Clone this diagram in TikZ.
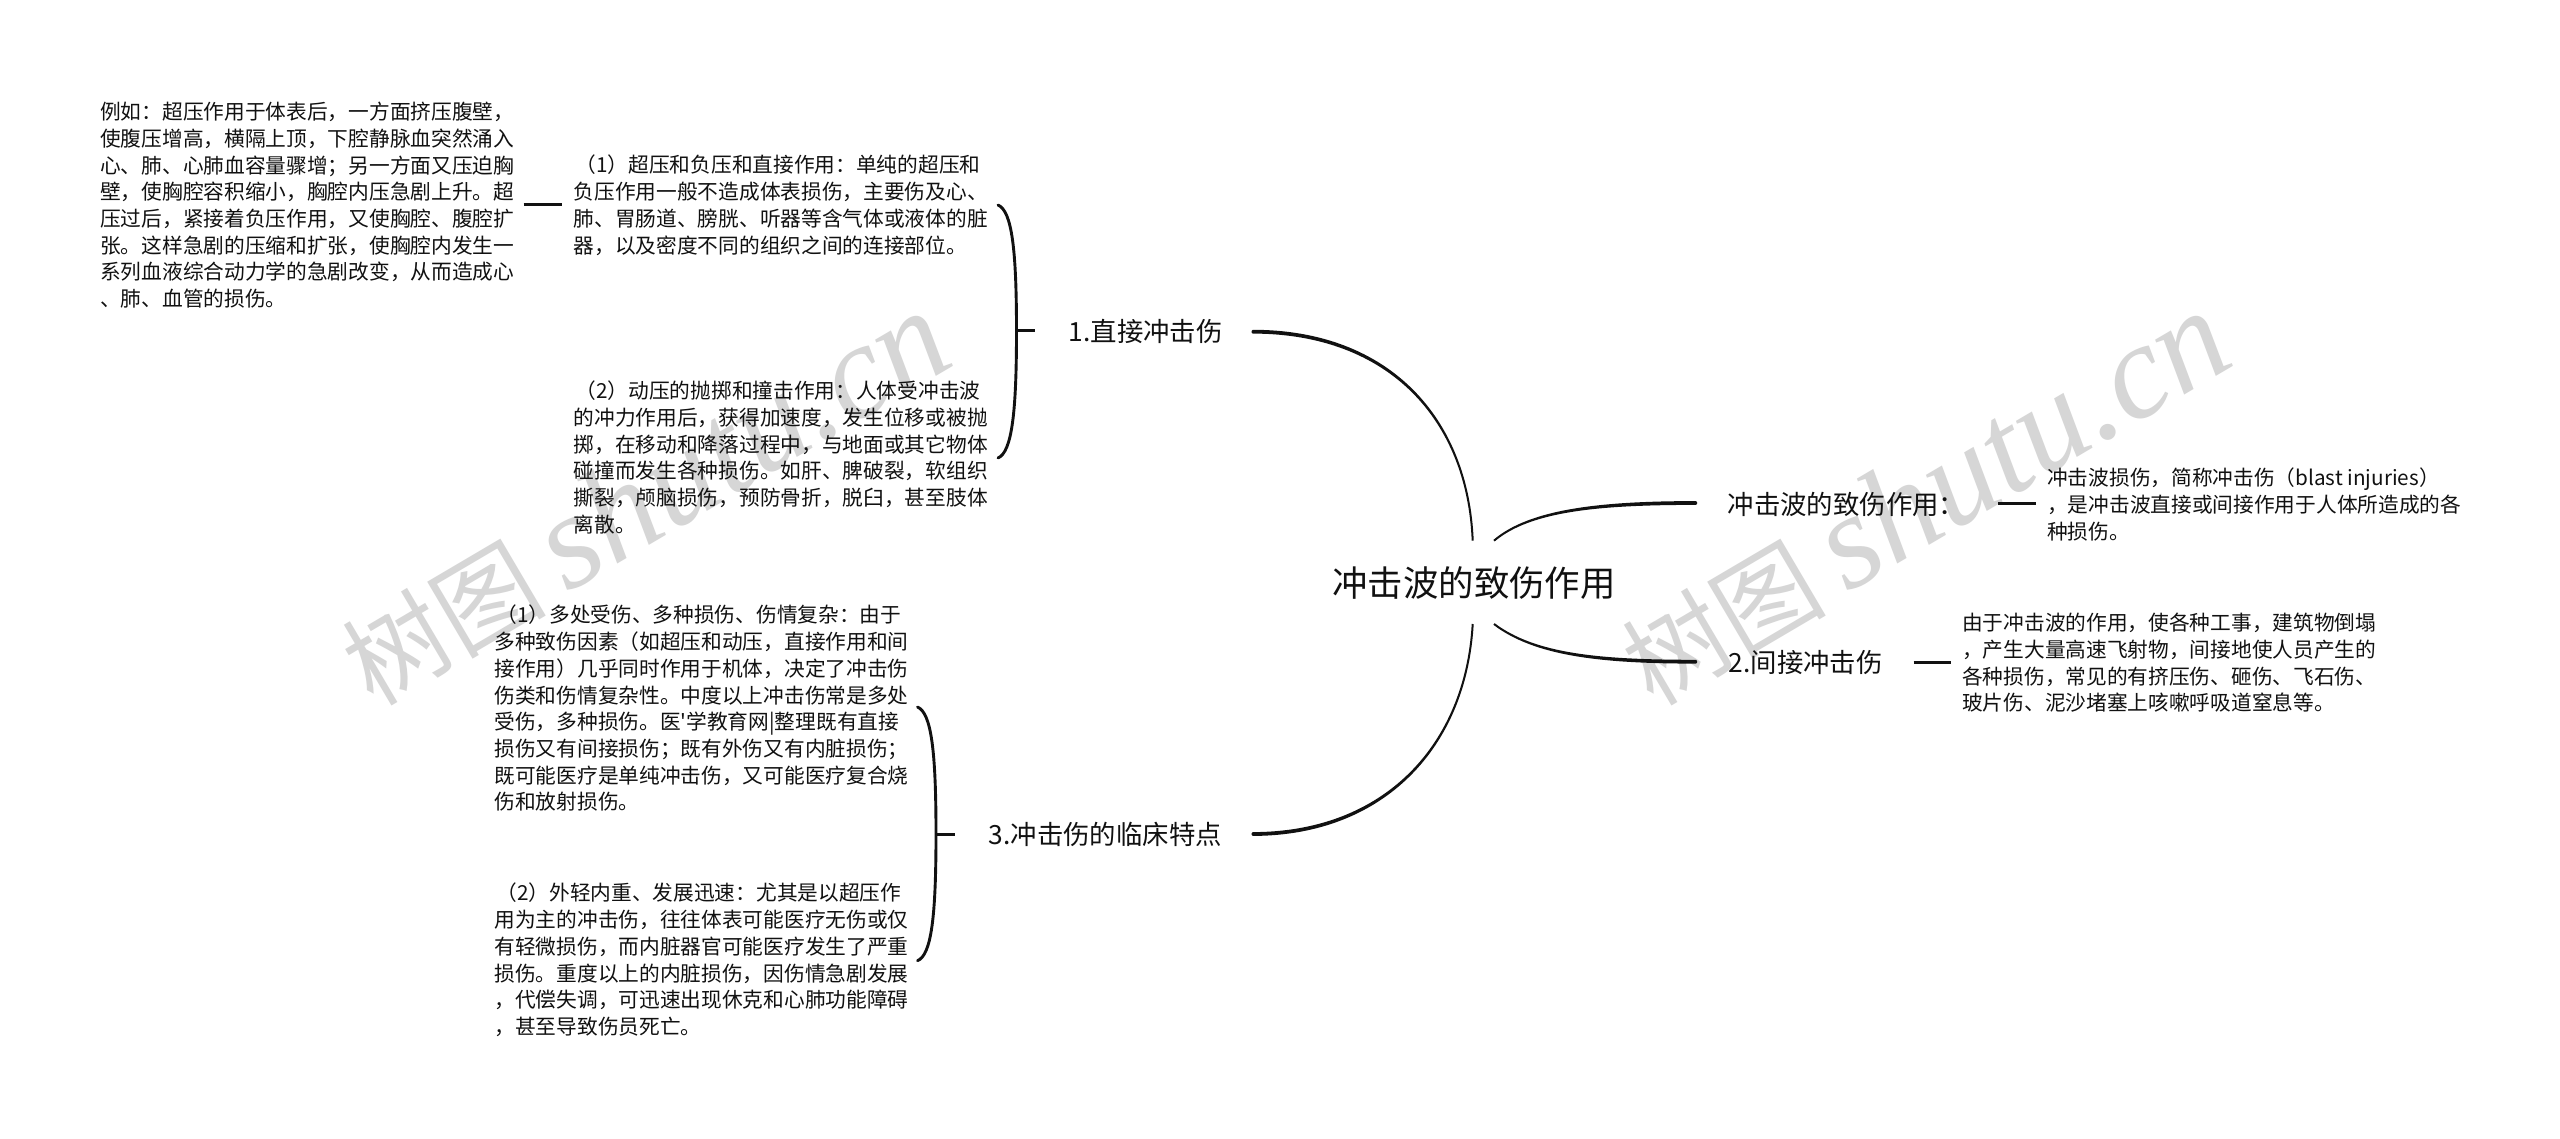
\documentclass[tikz,border=0pt]{standalone}
\usepackage{fontspec}
\setmainfont{Noto Sans CJK SC}
\newfontfamily\cjk{Noto Sans CJK SC}
\newfontfamily\wmserif{Liberation Serif}
\definecolor{ink}{HTML}{111111}
\definecolor{wm}{HTML}{D6D6D6}
\definecolor{linec}{HTML}{111111}
\newcommand{\taperline}[4]{\draw[taper] ([yshift=-.9pt]#1) .. controls ([yshift=-.9pt]#2) and (#3) .. (#4) .. controls (#3) and ([yshift=.9pt]#2) .. ([yshift=.9pt]#1) -- cycle;}
\tikzset{
  leaf/.style={anchor=north west,inner sep=0pt,align=left,text=ink,
    font={\cjk\fontsize{20.7}{26.7}\selectfont},
    execute at begin node={\rule{0pt}{20pt}}},
  branch/.style={anchor=west,inner sep=0pt,text=ink,font={\cjk\fontsize{26.4}{30}\selectfont}},
  rootnode/.style={anchor=center,inner sep=0pt,text=ink,font={\cjk\fontsize{35.4}{40}\selectfont}},
  stub/.style={draw=linec,line width=3pt},
  bracket/.style={draw=linec,line width=2.9pt,line cap=round},
  taper/.style={draw=linec,fill=linec,line width=2pt,line join=bevel},
  watermark/.style={anchor=base west,inner sep=0pt,rotate=30.5,text=wm}
}
\begin{document}
\begin{tikzpicture}[x=1pt,y=-1pt]
\useasboundingbox (0,0) rectangle (2560,1139);
\fill[white] (0,0) rectangle (2560,1139);
% watermarks
\node[watermark] (wmA) at (373,708) {{\cjk\fontsize{102}{104}\selectfont 树图}\hspace{22pt}{\wmserif\itshape\fontsize{135}{136}\selectfont shutu.cn}};
\node[watermark] (wmB) at (1653,708) {{\cjk\fontsize{102}{104}\selectfont 树图}\hspace{22pt}{\wmserif\itshape\fontsize{135}{136}\selectfont shutu.cn}};
% nodes
\node[rootnode] (root) at (1474,583) {冲击波的致伤作用};
\node[branch] (b1) at (1068.5,331) {1.直接冲击伤};
\node[branch] (b2) at (1728.5,663) {2.间接冲击伤};
\node[branch] (b3) at (988.5,834) {3.冲击伤的临床特点};
\node[branch] (b4) at (1727.5,504) {冲击波的致伤作用：};
\node[leaf] (ex) at (100,102) {例如：超压作用于体表后，一方面挤压腹壁，\\使腹压增高，横隔上顶，下腔静脉血突然涌入\\心、肺、心肺血容量骤增；另一方面又压迫胸\\壁，使胸腔容积缩小，胸腔内压急剧上升。超\\压过后，紧接着负压作用，又使胸腔、腹腔扩\\张。这样急剧的压缩和扩张，使胸腔内发生一\\系列血液综合动力学的急剧改变，从而造成心\\、肺、血管的损伤。};
\node[leaf] (d1) at (573.5,155) {\hspace*{2pt}（1）超压和负压和直接作用：单纯的超压和\\负压作用一般不造成体表损伤，主要伤及心、\\肺、胃肠道、膀胱、听器等含气体或液体的脏\\器，以及密度不同的组织之间的连接部位。};
\node[leaf] (d2) at (573.5,380.7) {\hspace*{2pt}（2）动压的抛掷和撞击作用：人体受冲击波\\的冲力作用后，获得加速度，发生位移或被抛\\掷，在移动和降落过程中，与地面或其它物体\\碰撞而发生各种损伤。如肝、脾破裂，软组织\\撕裂，颅脑损伤，预防骨折，脱臼，甚至肢体\\离散。};
\node[leaf] (c1) at (494.3,605) {\hspace*{2pt}（1）多处受伤、多种损伤、伤情复杂：由于\\多种致伤因素（如超压和动压，直接作用和间\\接作用）几乎同时作用于机体，决定了冲击伤\\伤类和伤情复杂性。中度以上冲击伤常是多处\\受伤，多种损伤。医'学教育网|整理既有直接\\损伤又有间接损伤；既有外伤又有内脏损伤；\\既可能医疗是单纯冲击伤，又可能医疗复合烧\\伤和放射损伤。};
\node[leaf] (c2) at (494.3,883) {\hspace*{2pt}（2）外轻内重、发展迅速：尤其是以超压作\\用为主的冲击伤，往往体表可能医疗无伤或仅\\有轻微损伤，而内脏器官可能医疗发生了严重\\损伤。重度以上的内脏损伤，因伤情急剧发展\\，代偿失调，可迅速出现休克和心肺功能障碍\\，甚至导致伤员死亡。};
\node[leaf] (a1) at (2047,468) {冲击波损伤，简称冲击伤（blast injuries）\\，是冲击波直接或间接作用于人体所造成的各\\种损伤。};
\node[leaf] (i1) at (1962,613) {由于冲击波的作用，使各种工事，建筑物倒塌\\，产生大量高速飞射物，间接地使人员产生的\\各种损伤，常见的有挤压伤、砸伤、飞石伤、\\玻片伤、泥沙堵塞上咳嗽呼吸道窒息等。};
% connector ends
\coordinate (rUL) at (1472.7,540.7);
\coordinate (rUR) at (1494,540.7);
\coordinate (rLL) at (1472.7,624);
\coordinate (rLR) at (1494,624);
\coordinate (b1e) at (1252.7,331.7);
\coordinate (b3e) at (1252.7,834);
\coordinate (b4w) at (1696,503);
\coordinate (b2w) at (1696,661.7);
\coordinate (b1w) at (1035,331);
\coordinate (brk1m) at (1016.5,331);
\coordinate (brk1t) at (998,205);
\coordinate (brk1b) at (998,458);
\coordinate (b3w) at (955,834);
\coordinate (brk3m) at (936,834);
\coordinate (brk3t) at (917.5,707);
\coordinate (brk3b) at (917.5,960.7);
\coordinate (exe) at (523.6,205);
\coordinate (d1w) at (562,205);
\coordinate (b4e) at (1998,503);
\coordinate (a1w) at (2036,503);
\coordinate (b2e) at (1913.5,662);
\coordinate (i1w) at (1951,662);
% root connectors
\taperline{b1e}{1390,331.7}{1468,420}{rUL}
\taperline{b3e}{1385,834}{1466,745}{rLL}
\taperline{b4w}{1600,503}{1530,510}{rUR}
\taperline{b2w}{1600,661.7}{1535,655}{rLR}
% brackets
\draw[bracket] (brk1t) .. controls (1012,211) and (1016.5,250) .. (brk1m) .. controls (1016.5,412) and (1012,452) .. (brk1b);
\draw[stub] (brk1m) -- (b1w);
\draw[bracket] (brk3t) .. controls (931.5,713) and (936,752) .. (brk3m) .. controls (936,916) and (931.5,955) .. (brk3b);
\draw[stub] (brk3m) -- (b3w);
% stubs
\draw[stub] (exe) -- (d1w);
\draw[stub] (b4e) -- (a1w);
\draw[stub] (b2e) -- (i1w);
\end{tikzpicture}
\end{document}
